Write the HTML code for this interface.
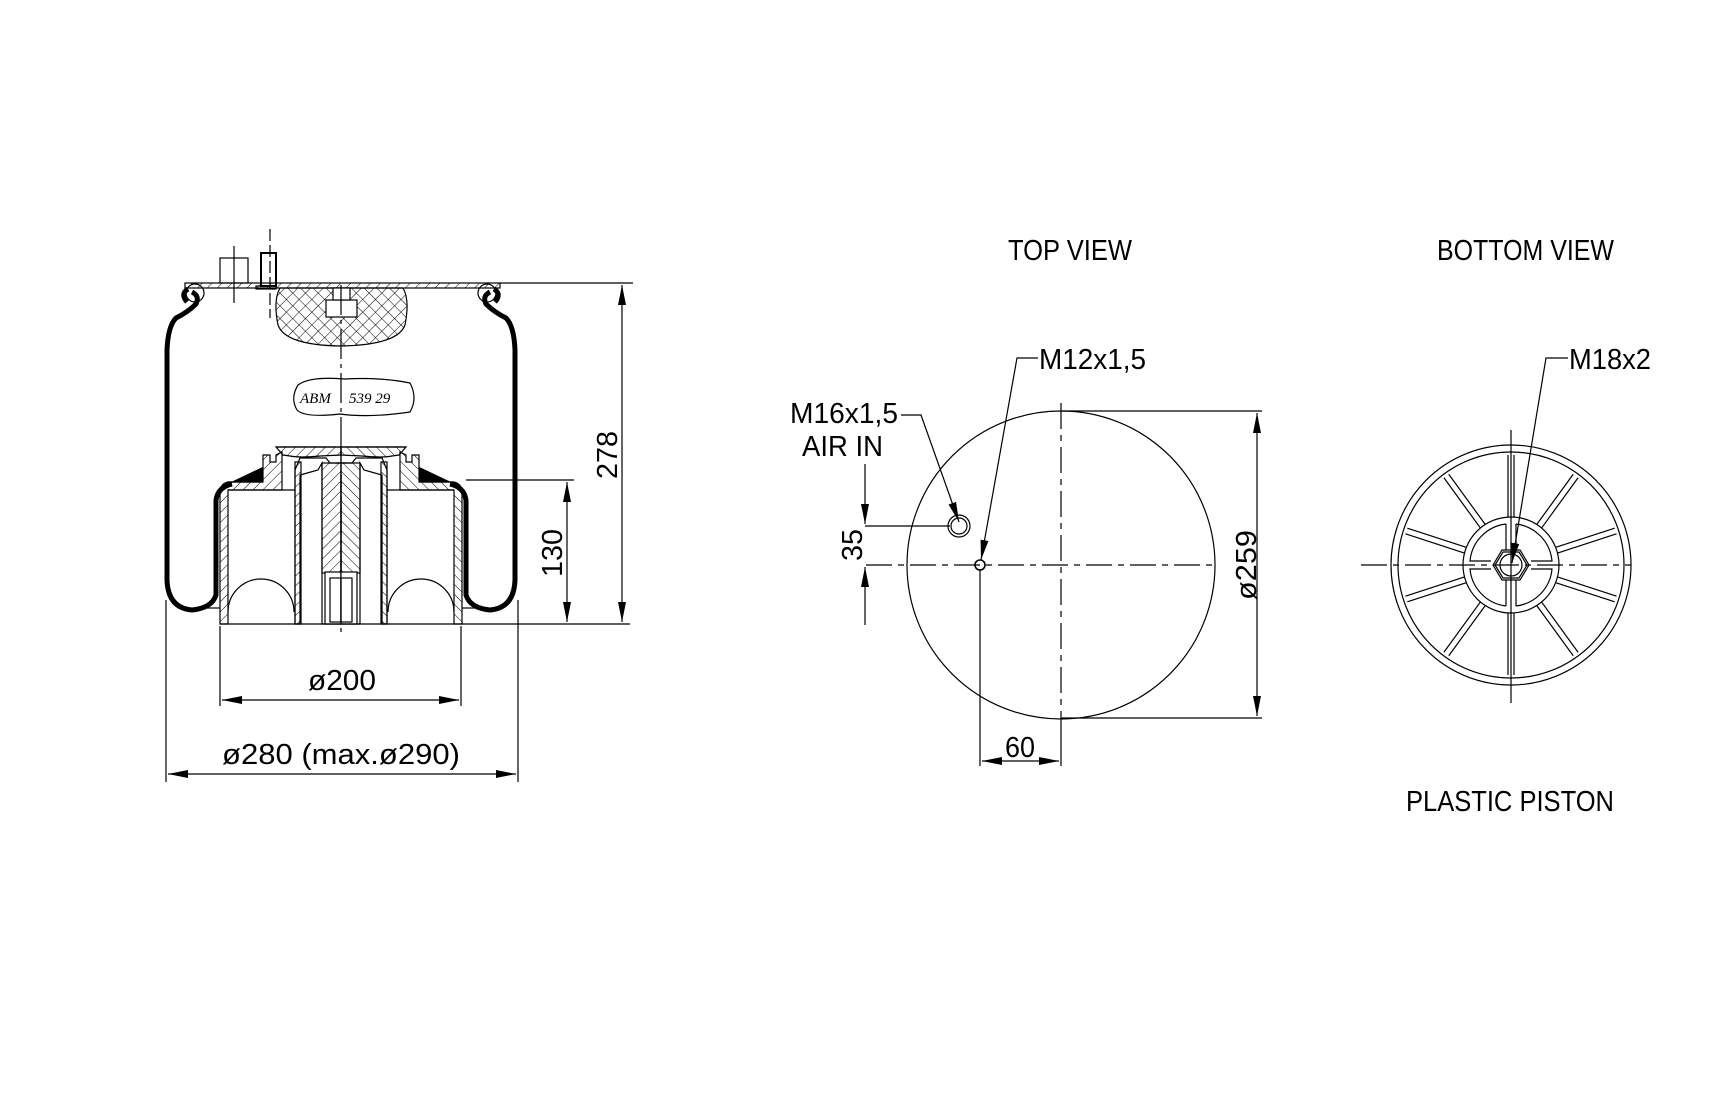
<!DOCTYPE html>
<html><head><meta charset="utf-8"><style>
html,body{margin:0;padding:0;background:#fff;}
svg{display:block;}
text{font-family:"Liberation Sans Narrow","Liberation Sans",sans-serif;fill:#000;}
</style></head><body>
<svg width="1723" height="1115" viewBox="0 0 1723 1115" xmlns="http://www.w3.org/2000/svg">
<defs>
<pattern id="h" width="7" height="7" patternUnits="userSpaceOnUse" patternTransform="rotate(45)">
<line x1="0" y1="0" x2="0" y2="7" stroke="#000" stroke-width="1"/></pattern>
<pattern id="x" width="9" height="9" patternUnits="userSpaceOnUse" patternTransform="rotate(45)">
<line x1="0" y1="0" x2="0" y2="9" stroke="#000" stroke-width="1"/><line x1="0" y1="0" x2="9" y2="0" stroke="#000" stroke-width="1"/></pattern>
<marker id="a" viewBox="0 0 20 8" refX="20" refY="4" markerWidth="20" markerHeight="8" markerUnits="userSpaceOnUse" orient="auto-start-reverse"><path d="M0,0 L20,4 L0,8 Z" fill="#000"/></marker>
</defs>
<g fill="none" stroke="#000" stroke-width="1.2">
<rect x="185" y="283" width="315" height="5" fill="url(#h)"/>
<rect x="220" y="258" width="28" height="25"/>
<rect x="261" y="253" width="15" height="33" stroke-width="2"/>
<rect x="256" y="286" width="20" height="3"/>
<line x1="234" y1="246" x2="234" y2="303"/>
<line x1="270" y1="229" x2="270" y2="318" stroke-dasharray="12,4"/>
<path d="M280,288 L403,288 Q410,300 405,325 Q398,345 340,346 Q285,345 278,325 Q273,300 280,288 Z" fill="url(#x)"/>
<rect x="326" y="300" width="31" height="17" fill="#fff"/>
<rect x="333" y="288" width="17" height="12" fill="#fff"/>
<path d="M298,385 Q310,376 345,379 Q380,377 410,383 Q418,398 410,412 Q370,418 340,414 Q305,418 297,410 Q290,398 298,385 Z"/>
<text x="300" y="403" font-style="italic" font-size="15" stroke="none" style="font-family:'Liberation Serif',serif">ABM</text>
<text x="349" y="403" font-style="italic" font-size="15" stroke="none" style="font-family:'Liberation Serif',serif">539 29</text>
<line x1="341" y1="285" x2="341" y2="636" stroke-dasharray="30,5,4,5"/>
<g id="half">
<circle cx="195" cy="293" r="9" stroke-width="1.2"/>
<path d="M192,292 Q200,296 196,304 Q188,312 176,318 Q168,326 167,350 L167,580 Q168,608 192,610 Q212,608 216,595 L216,500 Q218,487 232,484" stroke-width="5"/>
<path d="M188,289 Q180,294 187,302" stroke-width="5"/>
<path d="M226,485 L262,468 L262,482 L228,482 Z" fill="#000"/>
<path d="M220,624 L220,490 Q222,482 230,482 L263,482 L263,455 L270,455 L270,462 L276,462 L276,455 L282,452 L282,490 L228,490 L228,624 Z" fill="url(#h)"/>
<path d="M276,447 L341,447 L341,463 L330,463 L326,458 L300,458 L295,470 L295,624 L300,624 L300,475 L318,470 L322,463 L322,624 L341,624 L341,475" fill="none"/>
<path d="M276,447 L341,447 L341,455 L320,456 Q300,458 290,456 L283,455 Z" fill="url(#h)"/>
<rect x="295" y="462" width="6" height="162" fill="url(#h)"/>
<rect x="322" y="463" width="19" height="110" fill="url(#h)"/>
<rect x="325" y="572" width="16" height="52" fill="#fff" stroke="#000"/>
<rect x="330" y="578" width="11" height="44"/>
<line x1="228" y1="490" x2="295" y2="490"/>
<path d="M228,612 A33,33 0 0 1 294,612"/>
</g>
<use href="#half" transform="translate(682,0) scale(-1,1)"/>
<line x1="336" y1="463" x2="346" y2="463"/>
<line x1="220" y1="624" x2="630" y2="624"/>
<line x1="205" y1="608" x2="220" y2="608"/>
<line x1="462" y1="608" x2="477" y2="608"/>
<line x1="500" y1="283" x2="633" y2="283"/>
<line x1="622" y1="285" x2="622" y2="622" marker-start="url(#a)" marker-end="url(#a)"/>
<line x1="466" y1="480" x2="574" y2="480"/>
<line x1="567" y1="482" x2="567" y2="622" marker-start="url(#a)" marker-end="url(#a)"/>
<line x1="220" y1="626" x2="220" y2="706"/>
<line x1="461" y1="626" x2="461" y2="706"/>
<line x1="222" y1="700" x2="459" y2="700" marker-start="url(#a)" marker-end="url(#a)"/>
<line x1="166" y1="600" x2="166" y2="782"/>
<line x1="518" y1="600" x2="518" y2="782"/>
<line x1="168" y1="774" x2="516" y2="774" marker-start="url(#a)" marker-end="url(#a)"/>

<circle cx="1061" cy="565" r="154"/>
<line x1="866" y1="565" x2="1216" y2="565" stroke-dasharray="26,6,6,6"/>
<line x1="1061" y1="403" x2="1061" y2="719" stroke-dasharray="26,6,6,6"/>
<line x1="1061" y1="719" x2="1061" y2="766"/>
<line x1="1061" y1="411" x2="1262" y2="411"/>
<line x1="1061" y1="718" x2="1262" y2="718"/>
<line x1="1257" y1="413" x2="1257" y2="716" marker-start="url(#a)" marker-end="url(#a)"/>
<circle cx="980" cy="565" r="5" stroke-width="1.6"/>
<circle cx="959" cy="526" r="11"/>
<circle cx="959" cy="526" r="8"/>
<line x1="865" y1="526" x2="950" y2="526"/>
<line x1="865" y1="464" x2="865" y2="524" marker-end="url(#a)"/>
<line x1="865" y1="625" x2="865" y2="567" marker-end="url(#a)"/>
<line x1="980" y1="570" x2="980" y2="766"/>
<line x1="982" y1="761" x2="1059" y2="761" marker-start="url(#a)" marker-end="url(#a)"/>
<polyline points="1038,358 1017,358 981,560" marker-end="url(#a)"/>
<polyline points="901,415 921,415 959,522" marker-end="url(#a)"/>

<g transform="translate(1511,565)">
<circle r="120"/><circle r="113"/>
<circle r="48"/>
<line x1="-150" y1="0" x2="120" y2="0" stroke-dasharray="26,6,6,6"/>
<line x1="0" y1="-135" x2="0" y2="138"/>
<polygon points="-18,0 -9,-15 9,-15 18,0 9,15 -9,15"/>
<polygon points="-16,0 -8,-13 8,-13 16,0 8,13 -8,13"/>
<circle r="11"/>
<path d="M-5,-41 A41,41 0 0 0 -41,-4 L-20,-4" />
<path d="M5,-41 A41,41 0 0 1 41,-4 L20,-4" />
<path d="M-5,41 A41,41 0 0 1 -41,4 L-20,4" />
<path d="M5,41 A41,41 0 0 0 41,4 L20,4" />
<line x1="-5" y1="-41" x2="-5" y2="-15"/><line x1="5" y1="-41" x2="5" y2="-15"/>
<line x1="-5" y1="41" x2="-5" y2="15"/><line x1="5" y1="41" x2="5" y2="15"/>
<g id="sp"><line x1="-3" y1="-48" x2="-3" y2="-110"/><line x1="3" y1="-48" x2="3" y2="-110"/></g>
<use href="#sp" transform="rotate(36)"/><use href="#sp" transform="rotate(72)"/><use href="#sp" transform="rotate(108)"/><use href="#sp" transform="rotate(144)"/><use href="#sp" transform="rotate(180)"/><use href="#sp" transform="rotate(216)"/><use href="#sp" transform="rotate(252)"/><use href="#sp" transform="rotate(288)"/><use href="#sp" transform="rotate(324)"/>
</g>
<polyline points="1568,358 1546,358 1512,563" marker-end="url(#a)"/>
</g>

<g font-size="29" stroke="none">
<text x="1008" y="260" textLength="124" lengthAdjust="spacingAndGlyphs">TOP  VIEW</text>
<text x="1437" y="260" textLength="177" lengthAdjust="spacingAndGlyphs">BOTTOM  VIEW</text>
<text x="1406" y="811" textLength="208" lengthAdjust="spacingAndGlyphs">PLASTIC  PISTON</text>
<text x="1039" y="369" textLength="107" lengthAdjust="spacingAndGlyphs">M12x1,5</text>
<text x="790" y="423" textLength="108" lengthAdjust="spacingAndGlyphs">M16x1,5</text>
<text x="802" y="456" textLength="81" lengthAdjust="spacingAndGlyphs">AIR  IN</text>
<text x="1569" y="369" textLength="82" lengthAdjust="spacingAndGlyphs">M18x2</text>
<text x="1005" y="757" textLength="30" lengthAdjust="spacingAndGlyphs">60</text>
<text x="308" y="690" textLength="68" lengthAdjust="spacingAndGlyphs">ø200</text>
<text x="222" y="764" textLength="238" lengthAdjust="spacingAndGlyphs">ø280  (max.ø290)</text>
<text transform="translate(617,455) rotate(-90)" text-anchor="middle" textLength="48" lengthAdjust="spacingAndGlyphs">278</text>
<text transform="translate(562,553) rotate(-90)" text-anchor="middle" textLength="48" lengthAdjust="spacingAndGlyphs">130</text>
<text transform="translate(862,545) rotate(-90)" text-anchor="middle" textLength="32" lengthAdjust="spacingAndGlyphs">35</text>
<text transform="translate(1256,565) rotate(-90)" text-anchor="middle" textLength="70" lengthAdjust="spacingAndGlyphs">ø259</text>
</g>
</svg>
</body></html>
